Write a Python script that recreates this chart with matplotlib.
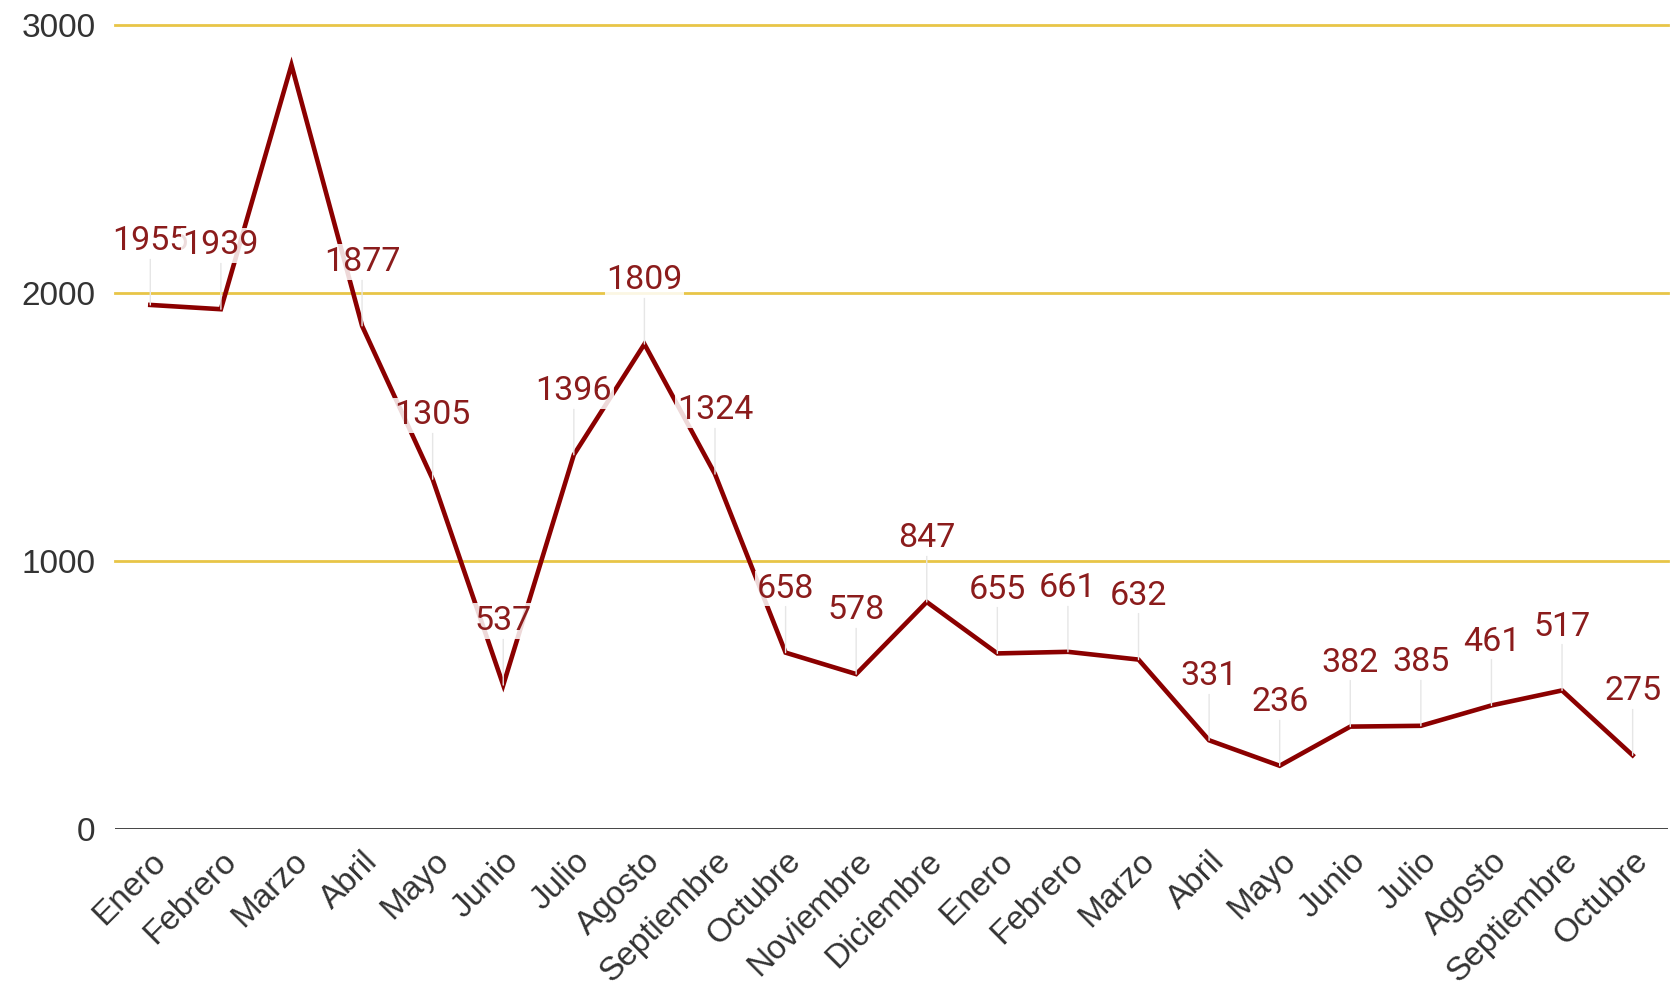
import matplotlib.pyplot as plt

meses = ["Enero", "Febrero", "Marzo", "Abril", "Mayo", "Junio", "Julio", "Agosto",
         "Septiembre", "Octubre", "Noviembre", "Diciembre",
         "Enero", "Febrero", "Marzo", "Abril", "Mayo", "Junio", "Julio", "Agosto",
         "Septiembre", "Octubre"]
valores = [1955, 1939, 2850, 1877, 1305, 537, 1396, 1809, 1324, 658, 578, 847,
           655, 661, 632, 331, 236, 382, 385, 461, 517, 275]
# Marzo has no visible label in the original
mostrar = [True, True, False] + [True] * 19

plt.rcParams['font.family'] = ['Roboto', 'DejaVu Sans']

fig = plt.figure(figsize=(16.79, 9.92), dpi=100)
ax = fig.add_axes([0.0685, 0.1643, 0.9249, 0.8107])

x = list(range(len(valores)))

for y in [1000, 2000, 3000]:
    ax.axhline(y, color='#e8c547', lw=2, zorder=1, clip_on=False)
ax.axhline(0, color='#333333', lw=2, zorder=1)

ax.plot(x, valores, color='#8b0000', lw=3.3, zorder=3, solid_joinstyle='miter')

for xi, v, m in zip(x, valores, mostrar):
    if not m:
        continue
    ax.annotate(str(v), xy=(xi, v), xytext=(0, 46), textcoords='offset points',
                ha='center', va='center', fontsize=24.5, color='#8b1c1c', zorder=4,
                bbox=dict(boxstyle='square,pad=0.05', fc='white', ec='none', alpha=0.85),
                arrowprops=dict(arrowstyle='-', color='#e6e6e6', lw=1,
                                shrinkA=0, shrinkB=0))

ax.set_xlim(-0.5, len(valores) - 0.5)
ax.set_ylim(0, 3000)
ax.set_yticks([0, 1000, 2000, 3000])
ax.set_xticks(x)
ax.set_xticklabels(meses, rotation=45, ha='right', rotation_mode='anchor')
ax.tick_params(axis='both', length=0, labelsize=24, colors='#333333')
ax.tick_params(axis='x', pad=12)
ax.tick_params(axis='y', pad=14)
for lbl in ax.get_xticklabels() + ax.get_yticklabels():
    lbl.set_family(['Liberation Sans', 'DejaVu Sans'])
for s in ax.spines.values():
    s.set_visible(False)

plt.savefig('out.png', dpi=100)
